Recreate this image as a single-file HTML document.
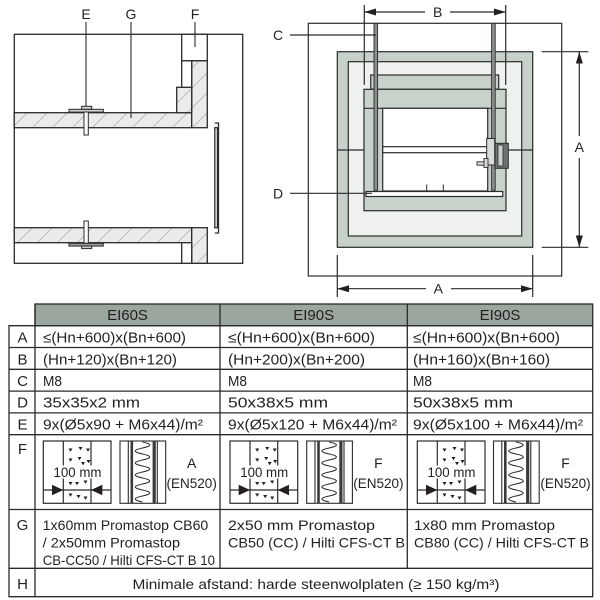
<!DOCTYPE html>
<html><head><meta charset="utf-8">
<style>
html,body{margin:0;padding:0;background:#fff;}
svg{display:block;}
text{font-family:"Liberation Sans",sans-serif;fill:#231f20;}
</style></head>
<body>
<svg width="600" height="600" viewBox="0 0 600 600" xmlns="http://www.w3.org/2000/svg">
<defs>
<pattern id="h" patternUnits="userSpaceOnUse" width="20" height="20">
<rect width="20" height="20" fill="#e9ece8"/>
<path d="M-2,22 L22,-2" stroke="#b3b8b3" stroke-width="0.8"/>
</pattern>
</defs>

<!-- ============ LEFT DRAWING ============ -->
<g stroke="#2b2b2b" stroke-width="1.3" fill="none">
<rect x="14.3" y="34.3" width="228.4" height="229" fill="#fff"/>
<rect x="14.3" y="112.7" width="177.4" height="15" fill="url(#h)"/>
<rect x="14.3" y="227.7" width="177.4" height="15" fill="url(#h)"/>
<rect x="191.7" y="60.7" width="15.6" height="67" fill="url(#h)"/>
<rect x="191.7" y="227.7" width="15.6" height="35.6" fill="url(#h)"/>
<rect x="176.7" y="87.3" width="15" height="25.4" fill="url(#h)"/>
<rect x="181.7" y="60.7" width="10" height="26.6" fill="#fff"/>
<rect x="181.7" y="34.3" width="25.6" height="26.4" fill="#fff"/>
<rect x="181.7" y="242.7" width="10" height="20.6" fill="#fff"/>
<rect x="214.8" y="127.7" width="2.6" height="100" fill="#fff"/>
<path d="M214.8,123 L218.5,123 L218.5,233 L214.8,233"/>
<rect x="69" y="109.3" width="34.3" height="2.8" fill="#cfcfcf" stroke-width="1"/>
<rect x="81.7" y="106.3" width="10" height="3" fill="#cfcfcf" stroke-width="1"/>
<rect x="84" y="112" width="4.3" height="23" fill="#fff" stroke-width="1"/>
<rect x="84" y="221" width="4.3" height="22.3" fill="#fff" stroke-width="1"/>
<rect x="69" y="243.3" width="34.3" height="2.8" fill="#9a9a9a" stroke-width="1"/>
<rect x="81.7" y="246" width="10" height="2.6" fill="#cfcfcf" stroke-width="1"/>
<line x1="86" y1="22" x2="86" y2="106" stroke-width="1.1"/>
<line x1="131" y1="22" x2="131" y2="118" stroke-width="1.1"/>
<line x1="195" y1="22" x2="195" y2="47" stroke-width="1.1"/>
</g>
<text x="86" y="19" font-size="14" text-anchor="middle">E</text>
<text x="131" y="19" font-size="14" text-anchor="middle">G</text>
<text x="195" y="19" font-size="14" text-anchor="middle">F</text>

<!-- ============ RIGHT DRAWING ============ -->
<g stroke="#2b2b2b" stroke-width="1.2">
<rect x="308.3" y="23.3" width="253.4" height="252.7" fill="#fff"/>
<rect x="337.3" y="51.7" width="195.4" height="195.6" fill="#c8d0ca"/>
<rect x="348.3" y="61.7" width="173.4" height="174.3" fill="#eef1ee"/>
<line x1="337.3" y1="150" x2="364" y2="150"/>
<line x1="506" y1="150" x2="532.7" y2="150"/>
<rect x="370.7" y="75" width="128" height="14.3" fill="#c9d1cb"/>
<rect x="364" y="89.3" width="142" height="121.4" fill="#c9d1cb"/>
<line x1="364" y1="108.3" x2="506" y2="108.3"/>
<rect x="382.7" y="108.3" width="105" height="82.7" fill="#fff"/>
<rect x="382.7" y="146.7" width="107" height="6" fill="#fff"/>
<rect x="366" y="191.5" width="136.7" height="5" fill="#fff"/>
<line x1="426.7" y1="184.5" x2="426.7" y2="191" stroke-width="1"/>
<line x1="443.3" y1="184.5" x2="443.3" y2="191" stroke-width="1"/>
<rect x="374" y="23.3" width="3.6" height="167" fill="#8a8f8c" stroke-width="0.9"/>
<rect x="491.6" y="23.3" width="3.6" height="167" fill="#8a8f8c" stroke-width="0.9"/>
<rect x="486.7" y="138.5" width="8" height="26.5" fill="#d8dcd9" stroke-width="1"/>
<rect x="495" y="143.3" width="13.3" height="25" fill="#6f7370" stroke-width="1"/>
<rect x="498" y="145" width="5" height="21" fill="#c9d1cb" stroke-width="0.8"/>
<rect x="477" y="161.8" width="10" height="3.4" fill="#d8dcd9" stroke-width="0.9"/>
<rect x="484" y="158.5" width="4" height="9" fill="#d8dcd9" stroke-width="0.9"/>
</g>
<g stroke="#2b2b2b" stroke-width="1.2" fill="none">
<line x1="364.3" y1="5" x2="364.3" y2="85"/>
<line x1="505.7" y1="5" x2="505.7" y2="85"/>
<line x1="364.3" y1="12" x2="425" y2="12"/>
<line x1="450" y1="12" x2="505.7" y2="12"/>
<line x1="541.7" y1="51.7" x2="588.3" y2="51.7"/>
<line x1="541.7" y1="247.3" x2="588.3" y2="247.3"/>
<line x1="579.3" y1="51.7" x2="579.3" y2="136"/>
<line x1="579.3" y1="158" x2="579.3" y2="247.3"/>
<line x1="337.3" y1="255" x2="337.3" y2="297"/>
<line x1="532.7" y1="255" x2="532.7" y2="297"/>
<line x1="337.3" y1="288.7" x2="426" y2="288.7"/>
<line x1="451" y1="288.7" x2="532.7" y2="288.7"/>
<line x1="290" y1="35" x2="376" y2="35"/>
<line x1="290" y1="193.3" x2="372" y2="193.3"/>
</g>
<g fill="#231f20">
<path d="M364.3,12 L376,8.5 L376,15.5Z"/>
<path d="M505.7,12 L494,8.5 L494,15.5Z"/>
<path d="M579.3,51.7 L575.8,63.5 L582.8,63.5Z"/>
<path d="M579.3,247.3 L575.8,235.5 L582.8,235.5Z"/>
<path d="M337.3,288.7 L349,285.2 L349,292.2Z"/>
<path d="M532.7,288.7 L521,285.2 L521,292.2Z"/>
</g>
<text x="437.7" y="17" font-size="14" text-anchor="middle">B</text>
<text x="278" y="40" font-size="14" text-anchor="middle">C</text>
<text x="278" y="198.3" font-size="14" text-anchor="middle">D</text>
<text x="579.3" y="152" font-size="14" text-anchor="middle">A</text>
<text x="438.3" y="293.7" font-size="14" text-anchor="middle">A</text>

<!-- ============ TABLE ============ -->
<rect x="35" y="304" width="557.7" height="21.7" fill="#9ba69f"/>
<g stroke="#2b2b2b" stroke-width="1.3" fill="none">
<rect x="35" y="304" width="557.7" height="21.7"/>
<path d="M9,325.7 L592.7,325.7 L592.7,596.7 L9,596.7 Z"/>
<line x1="9" y1="347.5" x2="592.7" y2="347.5"/>
<line x1="9" y1="369.3" x2="592.7" y2="369.3"/>
<line x1="9" y1="391.1" x2="592.7" y2="391.1"/>
<line x1="9" y1="412.9" x2="592.7" y2="412.9"/>
<line x1="9" y1="434.7" x2="592.7" y2="434.7"/>
<line x1="9" y1="509.5" x2="592.7" y2="509.5"/>
<line x1="9" y1="568.3" x2="592.7" y2="568.3"/>
<line x1="35" y1="304" x2="35" y2="596.7"/>
<line x1="220" y1="304" x2="220" y2="568.3"/>
<line x1="407.3" y1="304" x2="407.3" y2="568.3"/>
</g>
<text x="127.5" y="320" font-size="15" text-anchor="middle">EI60S</text>
<text x="313.7" y="320" font-size="15" text-anchor="middle">EI90S</text>
<text x="500" y="320" font-size="15" text-anchor="middle">EI90S</text>

<g font-size="15" text-anchor="middle">
<text x="22.5" y="342.5">A</text>
<text x="22.5" y="364.3">B</text>
<text x="22.5" y="386">C</text>
<text x="22.5" y="407.7">D</text>
<text x="22.5" y="429.3">E</text>
<text x="22.5" y="454">F</text>
<text x="22.5" y="530">G</text>
<text x="22.5" y="589">H</text>
</g>

<g font-size="14.5">
<text x="43" y="342.5" textLength="143" lengthAdjust="spacingAndGlyphs">≤(Hn+600)x(Bn+600)</text>
<text x="43" y="364.3" textLength="134" lengthAdjust="spacingAndGlyphs">(Hn+120)x(Bn+120)</text>
<text x="43" y="386" textLength="19" lengthAdjust="spacingAndGlyphs">M8</text>
<text x="43" y="407.7" textLength="97" lengthAdjust="spacingAndGlyphs">35x35x2 mm</text>
<text x="43" y="429.3" textLength="160" lengthAdjust="spacingAndGlyphs">9x(Ø5x90 + M6x44)/m²</text>

<text x="228" y="342.5" textLength="147" lengthAdjust="spacingAndGlyphs">≤(Hn+600)x(Bn+600)</text>
<text x="228" y="364.3" textLength="137" lengthAdjust="spacingAndGlyphs">(Hn+200)x(Bn+200)</text>
<text x="228" y="386" textLength="19" lengthAdjust="spacingAndGlyphs">M8</text>
<text x="228" y="407.7" textLength="100" lengthAdjust="spacingAndGlyphs">50x38x5 mm</text>
<text x="228" y="429.3" textLength="169" lengthAdjust="spacingAndGlyphs">9x(Ø5x120 + M6x44)/m²</text>

<text x="413" y="342.5" textLength="147" lengthAdjust="spacingAndGlyphs">≤(Hn+600)x(Bn+600)</text>
<text x="413" y="364.3" textLength="137" lengthAdjust="spacingAndGlyphs">(Hn+160)x(Bn+160)</text>
<text x="413" y="386" textLength="19" lengthAdjust="spacingAndGlyphs">M8</text>
<text x="413" y="407.7" textLength="100" lengthAdjust="spacingAndGlyphs">50x38x5 mm</text>
<text x="413" y="429.3" textLength="170" lengthAdjust="spacingAndGlyphs">9x(Ø5x100 + M6x44)/m²</text>
</g>

<g font-size="14">
<text x="42.7" y="530" textLength="165.6" lengthAdjust="spacingAndGlyphs">1x60mm Promastop CB60</text>
<text x="42.7" y="547.5" textLength="137.3" lengthAdjust="spacingAndGlyphs">/ 2x50mm Promastop</text>
<text x="42.7" y="565" textLength="172.3" lengthAdjust="spacingAndGlyphs">CB-CC50 / Hilti CFS-CT B 10</text>
<text x="228" y="530" textLength="147" lengthAdjust="spacingAndGlyphs">2x50 mm Promastop</text>
<text x="228" y="547.5" textLength="177" lengthAdjust="spacingAndGlyphs">CB50 (CC) / Hilti CFS-CT B</text>
<text x="414" y="530" textLength="141" lengthAdjust="spacingAndGlyphs">1x80 mm Promastop</text>
<text x="414" y="547.5" textLength="175" lengthAdjust="spacingAndGlyphs">CB80 (CC) / Hilti CFS-CT B</text>
</g>
<text x="316" y="589" font-size="14" text-anchor="middle" textLength="367" lengthAdjust="spacingAndGlyphs">Minimale afstand: harde steenwolplaten (≥ 150 kg/m³)</text>

<g id="ic1">
<g stroke="#2b2b2b" stroke-width="1.2" fill="none">
<rect x="43.3" y="441" width="67.7" height="62.3" fill="#fff"/>
<line x1="63.3" y1="441" x2="63.3" y2="503.3"/>
<line x1="91" y1="441" x2="91" y2="503.3"/>
<line x1="43.3" y1="490" x2="111" y2="490"/>
</g>
<rect x="54" y="465.5" width="50" height="13" fill="#fff"/>
<text x="77.5" y="477" font-size="13.5" text-anchor="middle" textLength="48" lengthAdjust="spacingAndGlyphs">100 mm</text>
<g fill="#231f20">
<path d="M63.3,490 L52,484.8 L52,495.2Z"/>
<path d="M91,490 L102.3,484.8 L102.3,495.2Z"/>
<path d="M68.5,448.5 l4,0 l-2,3.2z M78.5,447 l4,0 l-2,3.2z M86,448.5 l4,0 l-2,3.2z M68.5,458.5 l4,0 l-2,3.2z M77.5,457 l4,0 l-2,3.2z M86.5,460 l4,0 l-2,3.2z M81,462 l4,0 l-2,3.2z M68.5,482 l4,0 l-2,3.2z M75,482 l4,0 l-2,3.2z M83.5,480.5 l4,0 l-2,3.2z M68.5,493.5 l4,0 l-2,3.2z M76.5,495 l4,0 l-2,3.2z M83.5,496.5 l4,0 l-2,3.2z"/>
</g>
</g>
<g id="ic2">
<g stroke="#2b2b2b" stroke-width="1.1" fill="none">
<rect x="120" y="441" width="45.7" height="62.3" fill="#fff"/>
<line x1="128.3" y1="441" x2="128.3" y2="503.3"/>
<line x1="157.3" y1="441" x2="157.3" y2="503.3"/>
<path d="M142.5,442 Q157,445 142.5,448 Q128,451 142.5,454 Q157,457 142.5,460 Q128,463 142.5,466 Q157,469 142.5,472 Q128,475 142.5,478 Q157,481 142.5,484 Q128,487 142.5,490 Q157,493 142.5,496 Q128,499 142.5,502"/>
</g>
<rect x="130.5" y="441" width="2.6" height="62.3" fill="#3a3a3a"/>
<rect x="152.6" y="441" width="3.2" height="62.3" fill="#3a3a3a"/>
</g>
<text x="191.7" y="468" font-size="14" text-anchor="middle">A</text>
<text x="191.7" y="488" font-size="13.5" text-anchor="middle">(EN520)</text>

<use href="#ic1" x="186.7"/>
<use href="#ic2" x="186.7"/>
<text x="378.4" y="468" font-size="14" text-anchor="middle">F</text>
<text x="378.4" y="488" font-size="13.5" text-anchor="middle">(EN520)</text>

<use href="#ic1" x="374"/>
<use href="#ic2" x="373.5"/>
<text x="565.5" y="468" font-size="14" text-anchor="middle">F</text>
<text x="565.5" y="488" font-size="13.5" text-anchor="middle">(EN520)</text>
</svg>
</body></html>
